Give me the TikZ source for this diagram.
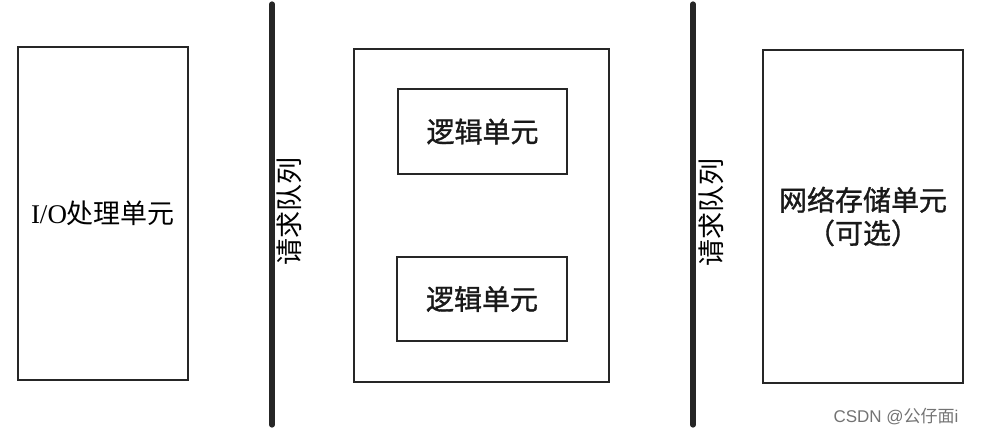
\documentclass[tikz,border=0pt]{standalone}
\usepackage{fontspec}
\setmainfont{Liberation Serif}
\setsansfont{Liberation Sans}
\newfontfamily\cjk{Noto Sans CJK SC}
\newfontfamily\cjkbold[FakeBold=1.2]{Noto Sans CJK SC}
\begin{document}
\begin{tikzpicture}[x=0.5pt,y=-0.5pt,
    unitbox/.style={draw=black!85,line width=0.8pt,inner sep=0pt},
    queuebar/.style={draw=black!85,line width=2.6pt,line cap=round},
    queuelabel/.style={rotate=90,font=\cjk\fontsize{13.5}{16}\selectfont},
    unittext/.style={font=\cjkbold\fontsize{14}{16.5}\selectfont,text=black!90}]
\useasboundingbox (0,0) rectangle (981,437);
\node[unitbox,minimum width=85pt,minimum height=166.5pt,font=\fontsize{13.5}{16}\selectfont] (io) at (103,213.5) {I/O{\cjk 处理单元}};
\node[unitbox,minimum width=127.5pt,minimum height=166.5pt] (logic) at (481.5,215.5) {};
\node[unitbox,unittext,minimum width=84.5pt,minimum height=42.5pt] (logicA) at (482.5,131.5) {逻辑单元};
\node[unitbox,unittext,minimum width=85pt,minimum height=42pt] (logicB) at (482,299) {逻辑单元};
\node[unitbox,unittext,minimum width=100pt,minimum height=166.5pt,align=center] (storage) at (863,216.5) {网络存储单元\\（可选）};
\coordinate (qAtop) at (272,4);
\coordinate (qAbot) at (272,425);
\coordinate (qBtop) at (693,4);
\coordinate (qBbot) at (693,425);
\draw[queuebar] (qAtop) -- (qAbot);
\draw[queuebar] (qBtop) -- (qBbot);
\node[queuelabel] (qAlabel) at (289,212) {请求队列};
\node[queuelabel] (qBlabel) at (711,213) {请求队列};
\node[text=black!55,font=\sffamily\fontsize{8.5}{10}\selectfont] (mark) at (896,417) {CSDN @{\cjk 公仔面}i};
\end{tikzpicture}
\end{document}
